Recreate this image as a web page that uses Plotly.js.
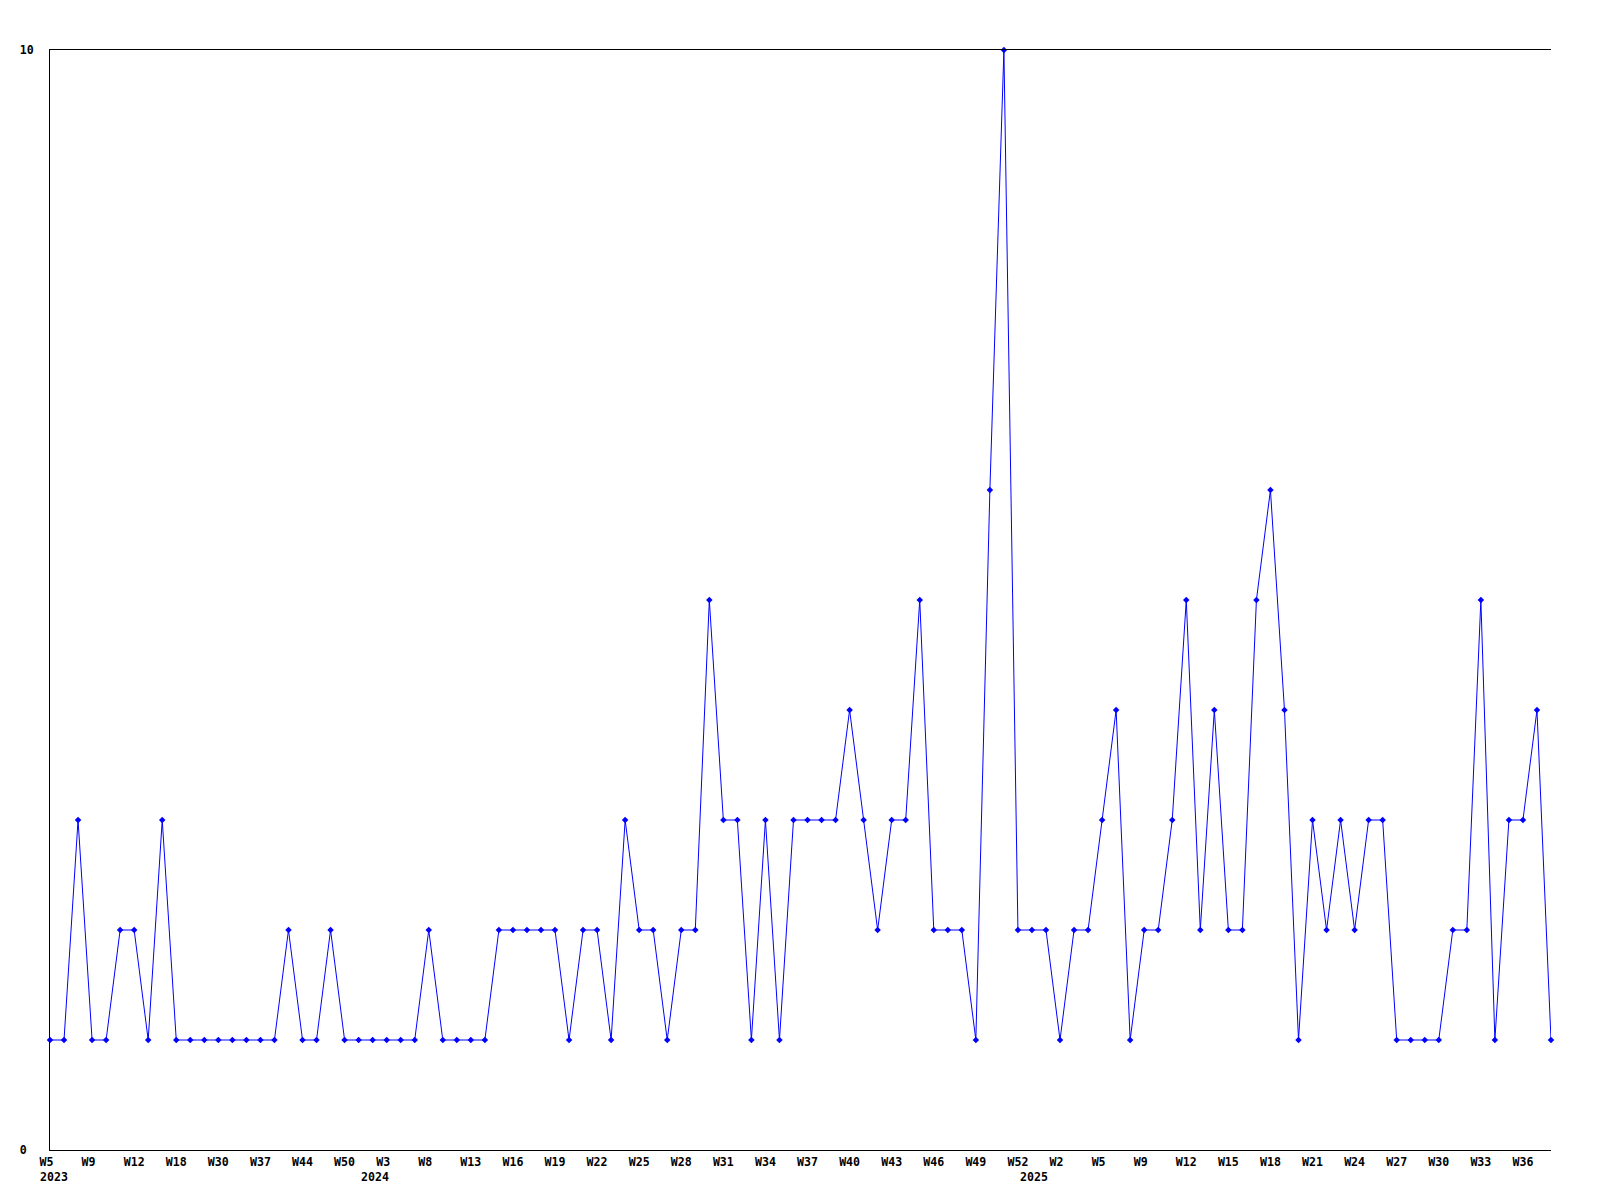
<!DOCTYPE html>
<html>
<head>
<meta charset="utf-8">
<script src="https://cdn.plot.ly/plotly-3.0.1.min.js"></script>
<style>
  html, body { margin: 0; padding: 0; background: #ffffff; }
  #chart { width: 1600px; height: 1200px; }
</style>
</head>
<body>
<div id="chart"></div>
<script>
// Weekly counts, one per data point (108 points, in order)
const values = [
  1, 1, 3, 1, 1, 2, 2, 1, 3, 1,
  1, 1, 1, 1, 1, 1, 1, 2, 1, 1,
  2, 1, 1, 1, 1, 1, 1, 2, 1, 1,
  1, 1, 2, 2, 2, 2, 2, 1, 2, 2,
  1, 3, 2, 2, 1, 2, 2, 5, 3, 3,
  1, 3, 1, 3, 3, 3, 3, 4, 3, 2,
  3, 3, 5, 2, 2, 2, 1, 6, 10, 2,
  2, 2, 1, 2, 2, 3, 4, 1, 2, 2,
  3, 5, 2, 4, 2, 2, 5, 6, 4, 1,
  3, 2, 3, 2, 3, 3, 1, 1, 1, 1,
  2, 2, 5, 1, 3, 3, 4, 1
];

// Week labels shown under every third point
const weekLabels = [
  "W5", "W9", "W12", "W18", "W30", "W37", "W44", "W50",
  "W3", "W8", "W13", "W16", "W19", "W22", "W25", "W28",
  "W31", "W34", "W37", "W40", "W43", "W46", "W49", "W52",
  "W2", "W5", "W9", "W12", "W15", "W18", "W21", "W24",
  "W27", "W30", "W33", "W36"
];

// Year labels
const yearLabels = ["2023", "2024", "2025"];

// Y-axis tick labels
const yTickValues = [0, 10];
const yTickLabels = ["0", "10"];

// ---- build from data ----
const pointIndex = values.map((v, i) => i);
const labelStep = 3;
const tickVals = weekLabels.map((w, i) => i * labelStep);
const tickText = weekLabels.map(w => w.length < 3 ? w + "\u00a0" : w);
const yText = yTickLabels.map(t => t.length < 2 ? t + "\u00a0" : t);

const FONT = { family: "'DejaVu Sans Mono', 'Liberation Mono', monospace", size: 11.6, color: "#000000", weight: "bold" };

const yearPos = [0.25, 23.19, 70.15];

const trace = {
  type: "scatter",
  mode: "lines+markers",
  x: pointIndex,
  y: values,
  line: { color: "#0000ff", width: 1 },
  marker: { color: "#0000ff", symbol: "diamond", size: 5, line: { width: 0 } },
  cliponaxis: false,
  hoverinfo: "skip"
};

const layout = {
  width: 1600,
  height: 1200,
  paper_bgcolor: "#ffffff",
  plot_bgcolor: "#ffffff",
  showlegend: false,
  margin: { l: 50, r: 49, t: 50, b: 50, pad: 0 },
  font: FONT,
  xaxis: {
    range: [0, values.length - 1],
    tickmode: "array",
    tickvals: tickVals,
    ticktext: tickText,
    tickfont: FONT,
    ticks: "",
    ticklabelstandoff: 1,
    showgrid: false,
    zeroline: false,
    showline: true,
    linecolor: "#000000",
    linewidth: 1,
    mirror: true,
    fixedrange: true
  },
  yaxis: {
    range: [0, 10],
    tickmode: "array",
    tickvals: yTickValues,
    ticktext: yText,
    tickfont: FONT,
    ticks: "",
    ticklabelstandoff: 13,
    showgrid: false,
    zeroline: false,
    showline: true,
    linecolor: "#000000",
    linewidth: 1,
    mirror: false,
    fixedrange: true
  },
  annotations: yearLabels.map((yr, i) => ({
    text: yr,
    xref: "x",
    yref: "paper",
    x: yearPos[i],
    y: -0.0241,
    xanchor: "center",
    yanchor: "middle",
    showarrow: false,
    font: FONT
  }))
};

Plotly.newPlot("chart", [trace], layout, { staticPlot: true, displayModeBar: false });
</script>
</body>
</html>
